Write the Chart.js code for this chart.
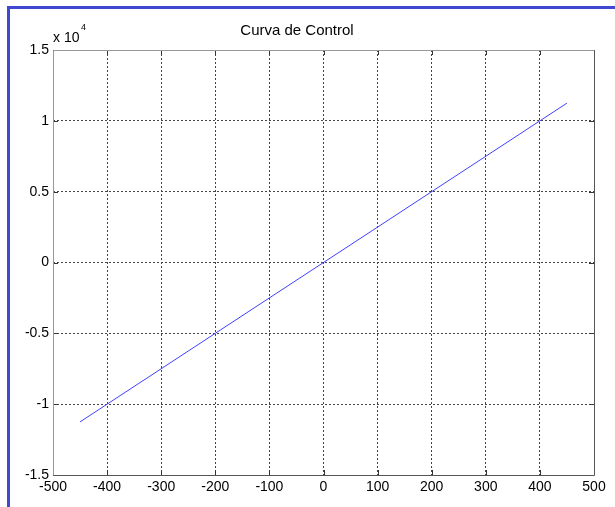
<!DOCTYPE html>
<html>
<head>
<meta charset="utf-8">
<script src="https://cdn.jsdelivr.net/npm/chart.js@4/dist/chart.umd.min.js"></script>
<style>
  html, body { margin: 0; padding: 0; background: #fff; }
  #wrap { position: relative; width: 615px; height: 507px; overflow: hidden; }
  #frame { position: absolute; left: 7px; top: 6px; width: 700px; height: 600px;
           border-left: 3px solid #3f48d0; border-top: 3px solid #3f48d0; }
  #c { position: absolute; left: 0; top: 0; }
</style>
</head>
<body>
<div id="wrap">
  <div id="frame"></div>
  <canvas id="c" width="615" height="507"></canvas>
</div>
<script>
// datos de la curva (y en unidades reales)
var xValues = [-450, -400, -200, 0, 200, 400, 450];
var yValues = [-11250, -10000, -5000, 0, 5000, 10000, 11250];
var xTicks = [-500, -400, -300, -200, -100, 0, 100, 200, 300, 400, 500];
var yTicks = [-15000, -10000, -5000, 0, 5000, 10000, 15000];
var yTickLabels = ['-1.5', '-1', '-0.5', '0', '0.5', '1', '1.5'];

var FONT = 'Arial, "Liberation Sans", sans-serif';

var points = [];
for (var i = 0; i < xValues.length; i++) {
    points.push({ x: xValues[i], y: yValues[i] });
}

// caja de ejes, marcas internas y exponente
var boxPlugin = {
    id: 'box',
    afterDraw: function (chart) {
        var ctx = chart.ctx, a = chart.chartArea;
        var sx = chart.scales.x, sy = chart.scales.y;
        ctx.save();
        ctx.lineWidth = 1;
        ctx.strokeStyle = '#333';
        for (var i = 0; i < xTicks.length; i++) {
            var px = Math.round(sx.getPixelForValue(xTicks[i])) + 0.5;
            ctx.beginPath();
            ctx.moveTo(px, a.bottom); ctx.lineTo(px, a.bottom - 5);
            ctx.moveTo(px, a.top); ctx.lineTo(px, a.top + 5);
            ctx.stroke();
        }
        for (var j = 0; j < yTicks.length; j++) {
            var py = Math.round(sy.getPixelForValue(yTicks[j])) + 0.5;
            ctx.beginPath();
            ctx.moveTo(a.left, py); ctx.lineTo(a.left + 5, py);
            ctx.moveTo(a.right, py); ctx.lineTo(a.right - 5, py);
            ctx.stroke();
        }
        var l = Math.round(a.left) + 0.5, r = Math.round(a.right) + 0.5;
        var t = Math.round(a.top) + 0.5, b = Math.round(a.bottom) + 0.5;
        ctx.strokeStyle = '#999';
        ctx.beginPath();
        ctx.moveTo(l, b); ctx.lineTo(l, t); ctx.lineTo(r, t);
        ctx.stroke();
        ctx.strokeStyle = '#555';
        ctx.beginPath();
        ctx.moveTo(r, t); ctx.lineTo(r, b); ctx.lineTo(l, b);
        ctx.stroke();

        ctx.fillStyle = '#000';
        ctx.textBaseline = 'alphabetic';
        ctx.textAlign = 'left';
        ctx.font = '14px ' + FONT;
        ctx.fillText('x 10', a.left, a.top - 8);
        ctx.font = '9px ' + FONT;
        ctx.fillText('4', a.left + 28, a.top - 20);
        ctx.restore();
    }
};

var gridStyle = {
    color: '#444',
    lineWidth: 1,
    drawTicks: false
};

new Chart(document.getElementById('c'), {
    type: 'scatter',
    data: {
        datasets: [{
            data: points,
            showLine: true,
            borderColor: '#4040ff',
            borderWidth: 1,
            pointRadius: 0,
            tension: 0
        }]
    },
    options: {
        responsive: false,
        animation: false,
        layout: { padding: { left: 0, right: 21, top: 0, bottom: 0 } },
        plugins: {
            legend: { display: false },
            tooltip: { enabled: false },
            title: {
                display: true,
                text: 'Curva de Control',
                color: '#000',
                font: { family: FONT, size: 15, weight: 'normal' },
                padding: { top: 22, bottom: 10 }
            }
        },
        scales: {
            x: {
                type: 'linear',
                min: -500, max: 500,
                afterBuildTicks: function (s) { s.ticks = xTicks.map(function (v) { return { value: v }; }); },
                afterFit: function (s) { s.height = 32; },
                grid: Object.assign({ }, gridStyle),
                border: { display: false, dash: [2, 2] },
                ticks: {
                    color: '#000', padding: 4, maxRotation: 0, autoSkip: false,
                    font: { family: FONT, size: 14 }
                }
            },
            y: {
                type: 'linear',
                min: -15000, max: 15000,
                afterBuildTicks: function (s) { s.ticks = yTicks.map(function (v) { return { value: v }; }); },
                afterFit: function (s) { s.width = 53; },
                grid: Object.assign({ }, gridStyle),
                border: { display: false, dash: [2, 2] },
                ticks: {
                    color: '#000', padding: 4, autoSkip: false,
                    font: { family: FONT, size: 14 },
                    callback: function (v) {
                        var k = yTicks.indexOf(v);
                        return k >= 0 ? yTickLabels[k] : '';
                    }
                }
            }
        }
    },
    plugins: [boxPlugin]
});
</script>
</body>
</html>
